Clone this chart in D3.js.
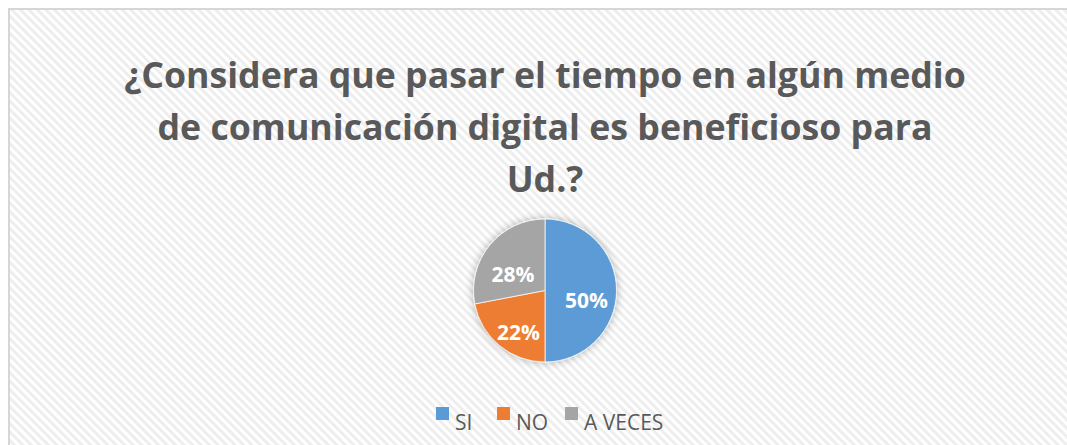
<!DOCTYPE html>
<html>
<head>
<meta charset="utf-8">
<script src="https://cdn.jsdelivr.net/npm/d3@7"></script>
<style>
  body { margin: 0; background: #fff; }
  svg { display: block; }
</style>
</head>
<body>
<div class="chart"></div>
<script>
const categories = ['SI', 'NO', 'A VECES'];
const values = [50, 22, 28];
const colors = ['#5B9BD5', '#ED7D31', '#A5A5A5'];
const titleLines = [
  '¿Considera que pasar el tiempo en algún medio',
  'de comunicación digital es beneficioso para',
  'Ud.?'
];

const w = 1067;
const h = 445;
const cx = 545;
const cy = 290.5;
const r = 71.5;

const svg = d3.select('.chart')
  .append('svg')
  .attr('width', w)
  .attr('height', h);

const defs = svg.append('defs');

const pattern = defs.append('pattern')
  .attr('id', 'stripes')
  .attr('patternUnits', 'userSpaceOnUse')
  .attr('width', 6)
  .attr('height', 6)
  .attr('patternTransform', 'rotate(-45)');
pattern.append('rect')
  .attr('width', 6)
  .attr('height', 6)
  .attr('fill', '#ffffff');
pattern.append('rect')
  .attr('width', 3)
  .attr('height', 6)
  .attr('fill', '#eeeeee');

const shadow = defs.append('filter')
  .attr('id', 'glow')
  .attr('x', '-30%')
  .attr('y', '-30%')
  .attr('width', '160%')
  .attr('height', '160%');
shadow.append('feGaussianBlur')
  .attr('in', 'SourceAlpha')
  .attr('stdDeviation', 4);
shadow.append('feComponentTransfer')
  .append('feFuncA')
  .attr('type', 'linear')
  .attr('slope', 0.3);
const merge = shadow.append('feMerge');
merge.append('feMergeNode');
merge.append('feMergeNode').attr('in', 'SourceGraphic');

// chart area
svg.append('rect')
  .attr('x', 9)
  .attr('y', 9)
  .attr('width', w + 20)
  .attr('height', h + 20)
  .attr('fill', 'url(#stripes)')
  .attr('stroke', '#d6d6d6')
  .attr('stroke-width', 2);

// title, sized so the first line spans the same width as the reference
const title = svg.append('g').attr('class', 'title');
const titleText = title.selectAll('text')
  .data(titleLines)
  .enter()
  .append('text')
  .attr('x', cx)
  .attr('y', (d, i) => 88 + i * 52)
  .attr('text-anchor', 'middle')
  .attr('fill', '#595959')
  .style('font-family', '"Open Sans", sans-serif')
  .style('font-weight', 'bold')
  .style('font-size', '36px')
  .text((d) => d);

const firstLen = titleText.node().getComputedTextLength();
const titleSize = 36 * 842 / firstLen;
titleText.style('font-size', `${titleSize}px`);

// pie
const pie = d3.pie()
  .sort(null)
  .value((d) => d);
const arc = d3.arc()
  .innerRadius(0)
  .outerRadius(r);
const labelArc = d3.arc()
  .innerRadius(r * 0.58)
  .outerRadius(r * 0.58);

const arcs = pie(values);

const pieG = svg.append('g')
  .attr('transform', `translate(${cx}, ${cy})`);

pieG.append('g')
  .attr('filter', 'url(#glow)')
  .selectAll('path')
  .data(arcs)
  .enter()
  .append('path')
  .attr('d', arc)
  .attr('fill', (d, i) => colors[i])
  .attr('stroke', '#ffffff')
  .attr('stroke-width', 0.75);

// labels sit a little below the centroid, like the original's best-fit labels
pieG.selectAll('text')
  .data(arcs)
  .enter()
  .append('text')
  .attr('transform', (d) => {
    const c = labelArc.centroid(d);
    return `translate(${c[0]}, ${c[1] + 10})`;
  })
  .attr('text-anchor', 'middle')
  .attr('dy', '0.36em')
  .attr('fill', '#ffffff')
  .style('font-family', '"Open Sans", sans-serif')
  .style('font-weight', 'bold')
  .style('font-size', '21px')
  .text((d) => `${d.data}%`);

// legend
const legendX = [436, 497, 565];
const legend = svg.append('g').attr('class', 'legend');
const items = legend.selectAll('g')
  .data(categories)
  .enter()
  .append('g')
  .attr('transform', (d, i) => `translate(${legendX[i]}, 407)`);
items.append('rect')
  .attr('width', 13)
  .attr('height', 13)
  .attr('fill', (d, i) => colors[i]);
items.append('text')
  .attr('x', 19)
  .attr('y', 23)
  .attr('fill', '#595959')
  .style('font-family', '"Open Sans", sans-serif')
  .style('font-size', '21px')
  .text((d) => d);
</script>
</body>
</html>
